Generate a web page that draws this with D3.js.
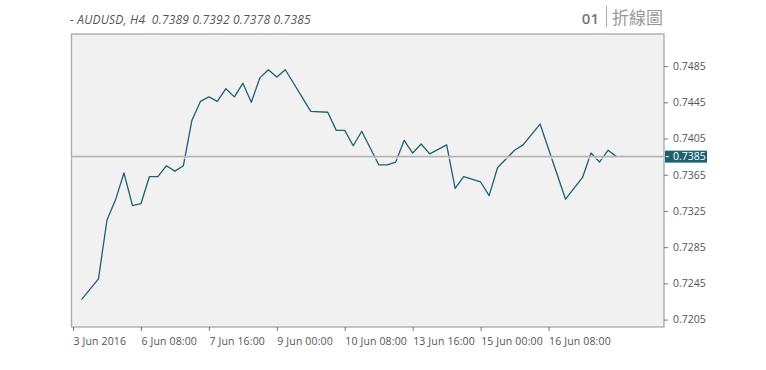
<!DOCTYPE html>
<html>
<head>
<meta charset="utf-8">
<script src="https://cdn.jsdelivr.net/npm/d3@7"></script>
<style>
  body { margin: 0; background: #fff; }
  svg { display: block; font-family: "Open Sans", Lato, sans-serif; }
</style>
</head>
<body>
<svg id="chart" width="766" height="370"></svg>
<script>
// bar index (H4 bars) and close price
const barIndex = [1, 3, 4, 5, 6, 7, 8, 9, 10, 11, 12, 13, 14, 15, 16, 17, 18, 19, 20, 21, 22, 23, 24, 25,
                  28, 30, 31, 32, 33, 34, 36, 37, 38, 39, 40, 41, 42, 44, 45, 46, 48, 49, 50, 52, 53, 55,
                  58, 60, 61, 62, 63, 64];
const closes = [0.7227, 0.7250, 0.7315, 0.7337, 0.7367, 0.7331, 0.7333, 0.7363, 0.7363, 0.7375, 0.7369, 0.7375,
                0.7425, 0.7446, 0.7451, 0.7446, 0.7460, 0.7451, 0.7466, 0.7445, 0.7472, 0.7481, 0.7473, 0.7481,
                0.7435, 0.7434, 0.7414, 0.7414, 0.7397, 0.7413, 0.7376, 0.7376, 0.7379, 0.7403, 0.7389, 0.7399,
                0.7388, 0.7398, 0.7350, 0.7363, 0.7357, 0.7342, 0.7373, 0.7392, 0.7398, 0.7421,
                0.7338, 0.7362, 0.7389, 0.7379, 0.7392, 0.7385];
const lastPrice = 0.7385;

const xTickIdx = [0, 8, 16, 24, 32, 40, 48, 56];
const xTickLabels = ["3 Jun 2016", "6 Jun 08:00", "7 Jun 16:00", "9 Jun 00:00",
                     "10 Jun 08:00", "13 Jun 16:00", "15 Jun 00:00", "16 Jun 08:00"];
const yTicks = [0.7205, 0.7245, 0.7285, 0.7325, 0.7365, 0.7405, 0.7445, 0.7485];

const headerText = "- AUDUSD, H4  0.7389 0.7392 0.7378 0.7385";

const plot = { left: 71.5, right: 664, top: 34, bottom: 327 };
const lineColor = "#1d6170";

const svg = d3.select("#chart");

const x = d3.scaleLinear().domain([0, 64]).range([73, 616.5]);
const y = d3.scaleLinear().domain([0.7205, 0.7485]).range([319.6, 66.1]);

// plot background
svg.append("rect")
    .attr("x", plot.left).attr("y", plot.top)
    .attr("width", plot.right - plot.left)
    .attr("height", plot.bottom - plot.top)
    .attr("fill", "#f1f1f1")
    .attr("stroke", "#a8a8a8")
    .attr("stroke-width", 1.3);

// price line
const data = barIndex.map((d, i) => ({ i: d, v: closes[i] }));

svg.append("path")
    .datum(data)
    .attr("fill", "none")
    .attr("stroke", lineColor)
    .attr("stroke-width", 1.3)
    .attr("stroke-linejoin", "round")
    .attr("d", d3.line().x(d => x(d.i)).y(d => y(d.v)));

// last price horizontal line
svg.append("line")
    .attr("x1", plot.left).attr("x2", plot.right)
    .attr("y1", y(lastPrice) + 1.5).attr("y2", y(lastPrice) + 1.5)
    .attr("stroke", "#fff").attr("stroke-width", 1);
svg.append("line")
    .attr("x1", plot.left).attr("x2", plot.right)
    .attr("y1", y(lastPrice)).attr("y2", y(lastPrice))
    .attr("stroke", "#b4b4b4").attr("stroke-width", 1.8);

// y axis
const yAxis = svg.append("g")
    .attr("transform", `translate(${plot.right},0)`)
    .call(d3.axisRight(y).tickValues(yTicks).tickSize(4).tickPadding(5).tickFormat(d3.format(".4f")));
yAxis.select(".domain").remove();
yAxis.selectAll("line").attr("stroke", "#777");
yAxis.selectAll("text")
    .attr("fill", "#555")
    .style("font-family", "'Open Sans', sans-serif")
    .style("font-size", "10.5px");

// last price tag
const tag = svg.append("g").attr("transform", `translate(${plot.right + 1},${y(lastPrice)})`);
tag.append("rect")
    .attr("x", 0).attr("y", -6)
    .attr("width", 42).attr("height", 12)
    .attr("fill", lineColor);
tag.append("line")
    .attr("x1", 1).attr("x2", 4).attr("y1", 0).attr("y2", 0)
    .attr("stroke", "#fff");
tag.append("text")
    .attr("x", 8).attr("dy", "0.35em")
    .attr("fill", "#fff")
    .style("font-size", "10.5px")
    .text(d3.format(".4f")(lastPrice));

// x axis
const xAxis = svg.append("g")
    .attr("transform", `translate(0,${plot.bottom})`)
    .call(d3.axisBottom(x).tickValues(xTickIdx).tickSize(4).tickPadding(6.5)
        .tickFormat((d, i) => xTickLabels[i]));
xAxis.select(".domain").remove();
xAxis.selectAll("line").attr("stroke", "#777");
xAxis.selectAll("text")
    .attr("text-anchor", "start")
    .attr("fill", "#555")
    .style("font-family", "'Open Sans', sans-serif")
    .style("font-size", "10.5px")
    .style("letter-spacing", "0.15px");

// header
svg.append("text")
    .attr("x", 70).attr("y", 24)
    .attr("fill", "#555")
    .style("font-size", "12px")
    .style("font-style", "italic")
    .style("letter-spacing", "0.2px")
    .style("white-space", "pre")
    .text(headerText);

svg.append("text")
    .attr("x", 599).attr("y", 24)
    .attr("text-anchor", "end")
    .attr("fill", "#777")
    .style("font-size", "15px")
    .style("font-weight", "600")
    .text("01");
svg.append("line")
    .attr("x1", 606.5).attr("x2", 606.5)
    .attr("y1", 6).attr("y2", 27)
    .attr("stroke", "#aaa").attr("stroke-width", 1);
svg.append("text")
    .attr("x", 612).attr("y", 24)
    .attr("fill", "#999")
    .style("font-family", "'Noto Sans CJK TC', sans-serif")
    .style("font-size", "17px")
    .text("折線圖");
</script>
</body>
</html>
